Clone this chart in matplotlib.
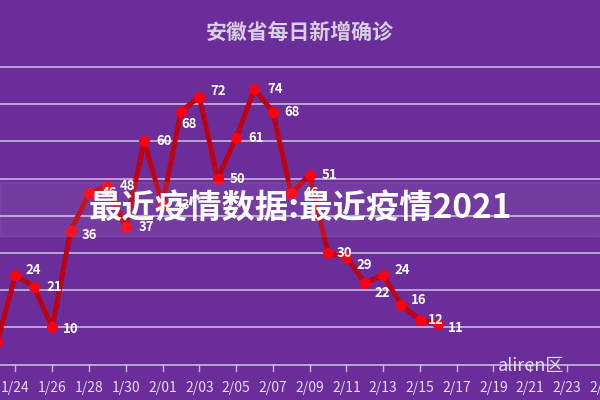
import matplotlib
matplotlib.use("Agg")
import matplotlib.pyplot as plt

plt.rcParams['font.family'] = ['Noto Sans CJK SC', 'DejaVu Sans']

dates = ["1/23","1/24","1/25","1/26","1/27","1/28","1/29","1/30","1/31","2/01","2/02","2/03","2/04",
         "2/05","2/06","2/07","2/08","2/09","2/10","2/11","2/12","2/13","2/14","2/15","2/16"]
values = [6,24,21,10,36,46,48,37,60,43,68,72,50,61,74,68,46,51,30,29,22,24,16,12,11]
tick_labels = ["1/24","1/26","1/28","1/30","2/01","2/03","2/05","2/07","2/09","2/11","2/13","2/15",
               "2/17","2/19","2/21","2/23","2/25"]

bg = "#6a2d9a"
fig = plt.figure(figsize=(6, 4), dpi=100, facecolor=bg)
ax = fig.add_axes([0, 0, 1, 1], facecolor=bg)
xs = list(range(len(values)))
ax.set_xlim(0.16, 32.8)
ax.set_ylim(-9.5, 98)
for g in range(10, 90, 10):
    ax.axhline(g, color="#c9b6dd", lw=1.2, zorder=1)
ax.axhline(0, color="#c9b6dd", lw=1.2, zorder=1)
ax.plot(xs, values, color="#c0000c", lw=3.5, zorder=3, solid_joinstyle='round')
ax.plot(xs, values, 'o', color="#ff0010", ms=7, zorder=4)
offs = {0:(7,-3),1:(7,4),3:(8,-1),4:(8,-3),10:(0,-9),11:(8,4),15:(8,0),18:(6,0),19:(7,-6),
        20:(7,-7),21:(8,4),22:(7,4),23:(6,0),24:(7,-3)}
for i, v in enumerate(values):
    dx, dy = offs.get(i, (9, 0))
    ax.annotate(str(v), (i, v), xytext=(dx, dy), textcoords='offset points', color="white",
                fontsize=9.5, fontweight='bold', va='center', ha='left', zorder=5)
tick_pos = [1 + 2*k for k in range(len(tick_labels))]
for p, lab in zip(tick_pos, tick_labels):
    ax.plot([p, p], [0, -1.7], color="#c9b6dd", lw=1)
    ax.text(p, -6.3, lab, color="#e6dcf0", fontsize=10, ha='center', va='center')
ax.axis('off')
fig.text(0.5, 0.92, "安徽省每日新增确诊", color="#d8d0e2", fontsize=15, fontweight='bold', ha='center', va='center')
fig.patches.append(plt.Rectangle((0, 0.41), 1, 0.135, transform=fig.transFigure, color="white", alpha=0.07, zorder=6))
fig.text(0.5, 0.48, "最近疫情数据:最近疫情2021", color="white", fontsize=24, fontweight='bold',
         ha='center', va='center', zorder=7)
fig.text(0.83, 0.085, "aliren区", color="#e6dcf0", fontsize=13, ha='left', va='center')
fig.savefig("out.png", dpi=100, facecolor=bg)
